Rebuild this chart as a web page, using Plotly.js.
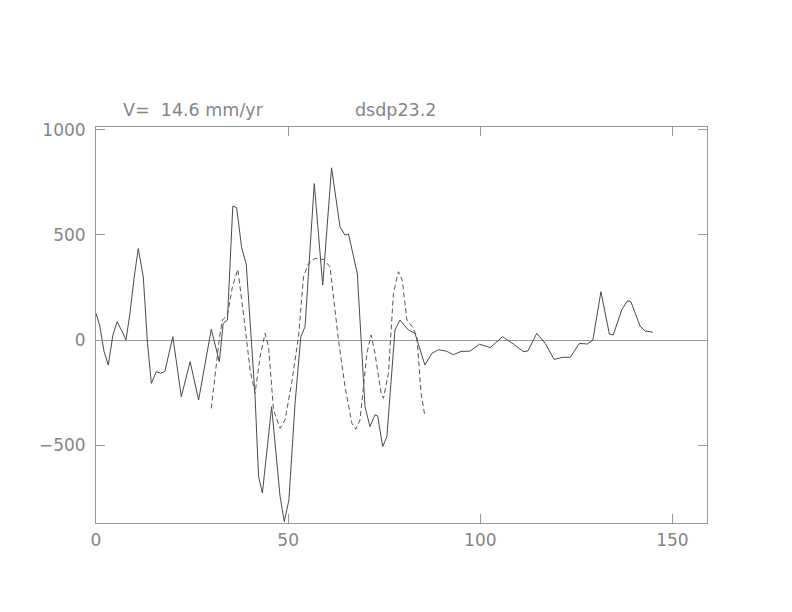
<!DOCTYPE html>
<html>
<head>
<meta charset="utf-8">
<script src="https://cdn.plot.ly/plotly-3.0.1.min.js"></script>
<style>html,body{margin:0;padding:0;background:#fff;}#chart{width:792px;height:612px;}</style>
</head>
<body>
<div id="chart"></div>
<script>
// Solid curve
const solidX = [0,1.0,2.1,3.2,4.4,5.5,6.7,7.8,8.9,9.9,11.0,12.3,13.4,14.4,15.7,16.8,17.9,20.0,22.2,24.5,26.7,30.0,32.1,33.1,34.2,35.6,36.6,37.9,39.1,41.4,42.3,43.3,45.7,47.9,49.0,50.2,51.8,53.3,54.4,56.8,59.0,61.3,63.5,64.8,65.7,68.0,70.0,71.3,72.6,73.3,74.6,75.7,77.8,79.1,81.3,83.0,85.6,87.4,89.1,91.2,93.0,95.0,97.3,99.8,102.6,105.8,108.6,111.2,112.4,114.7,116.9,119.2,121.5,123.4,125.8,127.9,129.3,131.4,133.6,134.6,136.8,138.3,139.2,141.6,142.9,144.9];
const solidY = [127,66,-55,-119,24,87,44,0,135,294,435,301,-15,-206,-150,-158,-150,16,-269,-103,-285,51,-103,79,95,637,630,440,360,-269,-649,-728,-317,-744,-863,-760,-301,16,63,744,261,819,538,499,504,317,-317,-412,-356,-361,-507,-459,48,95,48,32,-119,-63,-46,-53,-70,-54,-53,-20,-36,16,-19,-55,-52,32,-16,-92,-82,-82,-16,-19,0,230,28,24,143,187,182,66,43,37];
// Dashed curve
const dashX = [30.0,32.1,32.9,34.2,35.5,36.9,38.8,40.1,41.4,42.7,44.0,44.9,46.2,47.9,49.2,50.9,52.7,54.0,55.3,57.0,59.2,60.9,63.1,64.8,66.6,67.6,68.7,70.5,71.6,72.6,74.2,74.8,76.1,77.4,78.7,79.7,80.9,82.3,83.5,84.6,85.6];
const dashY = [-325,8,95,119,253,336,63,-143,-253,-79,32,-32,-333,-420,-380,-206,16,301,364,388,383,348,0,-222,-396,-424,-380,-63,24,-63,-253,-277,-158,222,325,285,95,63,16,-253,-364];
const xTicks = [0,50,100,150];
const yTicks = [-500,0,500,1000];
const titleLeft = "V=\u00a0\u00a014.6\u00a0mm/yr";
const titleRight = "dsdp23.2";

const traces = [
  {x: solidX, y: solidY, mode: 'lines', line: {color: '#4a4a4a', width: 1}, hoverinfo: 'skip'},
  {x: dashX, y: dashY, mode: 'lines', line: {color: '#555', width: 1, dash: '5px,3px'}, hoverinfo: 'skip'}
];
const axisCommon = {
  showgrid: false, ticks: 'inside', ticklen: 9, tickcolor: '#999', tickwidth: 1,
  showline: true, linecolor: '#999', linewidth: 1, mirror: 'ticks',
  tickfont: {family: 'DejaVu Sans', size: 17, color: '#858585'}
};
const layout = {
  width: 792, height: 612,
  margin: {l: 96, r: 85, t: 127, b: 89},
  paper_bgcolor: '#fff', plot_bgcolor: '#fff',
  showlegend: false,
  xaxis: Object.assign({}, axisCommon, {range: [0, 159], tickvals: xTicks, ticktext: xTicks.map(String), zeroline: false, ticklabelstandoff: 2}),
  yaxis: Object.assign({}, axisCommon, {range: [-870, 1013], tickvals: yTicks, ticktext: yTicks.map(v => v < 0 ? '\u2212' + Math.abs(v) : String(v)), zeroline: true, zerolinecolor: '#999', zerolinewidth: 1, ticklabelstandoff: 6}),
  annotations: [
    {text: titleLeft, xref: 'paper', yref: 'paper', x: 0.041, y: 1.044, xanchor: 'left', yanchor: 'middle', showarrow: false, font: {family: 'DejaVu Sans', size: 17.5, color: '#858585'}},
    {text: titleRight, xref: 'paper', yref: 'paper', x: 0.421, y: 1.044, xanchor: 'left', yanchor: 'middle', showarrow: false, font: {family: 'DejaVu Sans', size: 17.5, color: '#858585'}}
  ]
};
Plotly.newPlot('chart', traces, layout, {displayModeBar: false, staticPlot: true});
</script>
</body>
</html>
